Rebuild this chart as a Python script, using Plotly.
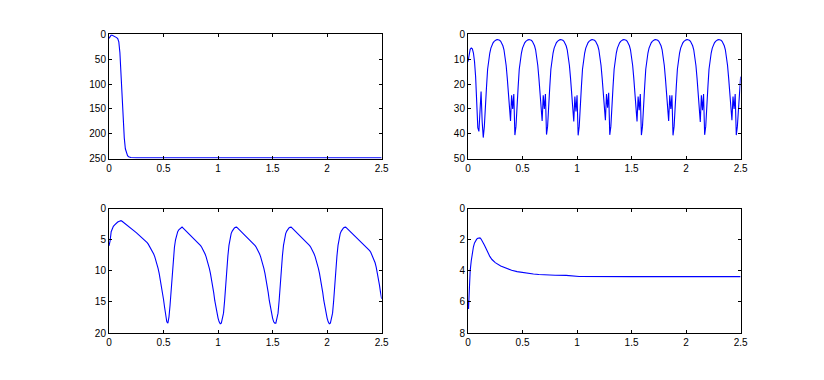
import plotly.graph_objects as go

# ---------------- data ----------------
T_STEP = 0.01  # sampling step of the simulated traces (s)

# top-left panel (irregular sample times)
tl_x = [0.00, 0.01, 0.02, 0.03, 0.04, 0.05, 0.06, 0.07, 0.08, 0.09,
        0.10, 0.11, 0.12, 0.13, 0.14, 0.15, 0.16, 0.17, 0.18, 0.19,
        0.20, 0.25, 0.50, 1.00, 1.50, 2.00, 2.50]
tl_y = [8, 3.5, 1.6, 1.8, 2.8, 4.0, 5.2, 6.5, 8.5, 15,
        37, 88, 130, 173, 208, 230, 240, 244, 246, 247,
        247.5, 248, 248, 248, 248, 248, 248]

# top-right panel (sampled every T_STEP from 0 to 2.5)
tr_y = [
    11, 8, 6, 5.5, 5.8, 7.5, 11, 17, 25, 37.5, 39, 29, 23, 35, 41.5,
    37, 31, 21, 14, 10, 7.5, 5.5, 4.2, 3.4, 2.8, 2.4, 2.2, 2.1, 2.2, 2.4, 2.8, 3.5, 4.6, 6.2, 8.8, 12.5, 17.5, 23.5, 30.5, 34.8, 24.5, 30, 24,
    40.5, 37, 31, 21, 14, 10, 7.5, 5.5, 4.2, 3.4, 2.8, 2.4, 2.2, 2.1, 2.2, 2.4, 2.8, 3.5, 4.6, 6.2, 8.8, 12.5, 17.5, 23.5, 30.5, 34.8, 24.5, 30, 24,
    40.3, 37, 31, 21, 14, 10, 7.5, 5.5, 4.2, 3.4, 2.8, 2.4, 2.2, 2.1, 2.2, 2.4, 2.8, 3.5, 4.6, 6.2, 8.8, 12.5, 17.5, 23.5, 31, 35, 25, 31, 24.5,
    40.6, 37, 31, 21, 14, 10, 7.5, 5.5, 4.2, 3.4, 2.8, 2.4, 2.2, 2.1, 2.2, 2.4, 2.8, 3.5, 4.6, 6.2, 8.8, 12.5, 17.5, 23.5, 30, 34.5, 24, 29.5, 23.5,
    40.4, 37, 31, 21, 14, 10, 7.5, 5.5, 4.2, 3.4, 2.8, 2.4, 2.2, 2.1, 2.2, 2.4, 2.8, 3.5, 4.6, 6.2, 8.8, 12.5, 17.5, 23.5, 31, 35, 25, 30.5, 24,
    40.5, 37, 31, 21, 14, 10, 7.5, 5.5, 4.2, 3.4, 2.8, 2.4, 2.2, 2.1, 2.2, 2.4, 2.8, 3.5, 4.6, 6.2, 8.8, 12.5, 17.5, 23.5, 30.5, 34.8, 24.5, 30, 24.5,
    40.6, 37, 31, 21, 14, 10, 7.5, 5.5, 4.2, 3.4, 2.8, 2.4, 2.2, 2.1, 2.2, 2.4, 2.8, 3.5, 4.6, 6.2, 8.8, 12.5, 17.5, 23.5, 31, 35.2, 24.5, 30.5, 24,
    40.4, 37, 31, 21, 14, 10, 7.5, 5.5, 4.2, 3.4, 2.8, 2.4, 2.2, 2.1, 2.2, 2.4, 2.8, 3.5, 4.6, 6.2, 8.8, 12.5, 17.5, 23.5, 30.5, 34.5, 25, 30, 24,
    40.5, 37, 31, 22, 17,
]

# bottom-left panel (sampled every T_STEP from 0 to 2.5)
bl_y = [
    6.0, 5.2, 3.7, 3.1, 2.85, 2.65, 2.45, 2.3, 2.15, 2.05,
    1.97, 1.93, 2.02, 2.15, 2.28, 2.41, 2.54, 2.67, 2.8, 2.95,
    3.1, 3.25, 3.4, 3.55, 3.7, 3.85, 4.0, 4.15, 4.3, 4.45,
    4.6, 4.75, 4.9, 5.05, 5.25, 5.45, 5.7, 6.0, 6.3, 6.6,
    6.9, 7.3, 7.75, 8.3, 8.9, 9.6, 10.4, 11.3, 12.3, 13.4,
    14.6, 15.9, 17.2, 18.2, 18.4, 17.4, 15.5, 13.0, 10.3, 8.0,
    6.2, 5.0, 4.2, 3.7, 3.4, 3.2, 3.05,
    2.96, 3.12, 3.29, 3.46, 3.63, 3.80, 3.97, 4.14, 4.31, 4.48,
    4.65, 4.82, 4.99, 5.16, 5.33, 5.52, 5.72, 5.95, 6.2, 6.5,
    6.85, 7.25, 7.7, 8.25, 8.9, 9.6, 10.4, 11.3, 12.3, 13.5,
    14.8, 16.0, 16.9, 17.6, 18.2, 18.5, 18.4, 17.6, 16.8, 14.8,
    12.0, 9.8, 7.6, 5.9, 4.6, 4.0, 3.6, 3.3, 3.1, 3.0,
    2.96, 3.12, 3.29, 3.46, 3.63, 3.80, 3.97, 4.14, 4.31, 4.48,
    4.65, 4.82, 4.99, 5.16, 5.33, 5.52, 5.72, 5.95, 6.2, 6.5,
    6.85, 7.25, 7.7, 8.25, 8.9, 9.6, 10.4, 11.3, 12.3, 13.5,
    14.8, 16.0, 16.9, 17.6, 18.2, 18.4, 18.4, 17.6, 16.8, 14.8,
    12.0, 9.8, 7.6, 5.9, 4.6, 4.0, 3.6, 3.3, 3.1, 3.0,
    2.96, 3.12, 3.29, 3.46, 3.63, 3.80, 3.97, 4.14, 4.31, 4.48,
    4.65, 4.82, 4.99, 5.16, 5.33, 5.52, 5.72, 5.95, 6.2, 6.5,
    6.85, 7.25, 7.7, 8.25, 8.9, 9.6, 10.4, 11.3, 12.3, 13.5,
    14.8, 16.0, 16.9, 17.6, 18.2, 18.5, 18.4, 17.6, 16.8, 14.8,
    12.0, 9.8, 7.6, 5.9, 4.6, 4.0, 3.6, 3.3, 3.1, 3.0,
    2.96, 3.12, 3.29, 3.46, 3.63, 3.80, 3.97, 4.14, 4.31, 4.48,
    4.65, 4.82, 4.99, 5.16, 5.3, 5.45, 5.6, 5.78, 5.95, 6.15,
    6.35, 6.55, 6.75, 7.0, 7.4, 7.8, 8.2, 8.7, 9.4, 10.2,
    11.1, 12.3, 13.5, 14.5,
]

# bottom-right panel (irregular sample times)
br_x = [0.000, 0.005, 0.010, 0.015, 0.020, 0.030, 0.040, 0.050, 0.060, 0.070,
        0.080, 0.090, 0.100, 0.110, 0.120, 0.130, 0.140, 0.150, 0.160, 0.170,
        0.180, 0.190, 0.200, 0.220, 0.250, 0.300, 0.350, 0.400, 0.450, 0.500,
        0.550, 0.600, 0.650, 0.700, 0.800, 0.900, 1.000, 1.020, 1.500, 2.000,
        2.500]
br_y = [5.9, 6.45, 5.6, 4.6, 4.0, 3.35, 2.8, 2.45, 2.2, 2.05,
        1.96, 1.9, 1.87, 1.88, 1.95, 2.05, 2.18, 2.33, 2.48, 2.63,
        2.8, 2.95, 3.07, 3.27, 3.47, 3.69, 3.84, 3.96, 4.05, 4.11,
        4.16, 4.2, 4.23, 4.26, 4.28, 4.29, 4.31, 4.36, 4.37, 4.37,
        4.37]

x_ticks = [0, 0.5, 1, 1.5, 2, 2.5]
x_tick_text = ["0", "0.5", "1", "1.5", "2", "2.5"]
tl_yticks = [0, 50, 100, 150, 200, 250]
tr_yticks = [0, 10, 20, 30, 40, 50]
bl_yticks = [0, 5, 10, 15, 20]
br_yticks = [0, 2, 4, 6, 8]

tr_x = [round(i * T_STEP, 2) for i in range(len(tr_y))]
bl_x = [round(i * T_STEP, 2) for i in range(len(bl_y))]

# ---------------- figure ----------------
W, H = 824, 380
LINE = dict(color="#0000ff", width=1.1)

fig = go.Figure()
fig.add_trace(go.Scatter(x=tl_x, y=tl_y, mode="lines", line=LINE, xaxis="x", yaxis="y", hoverinfo="skip"))
fig.add_trace(go.Scatter(x=tr_x, y=tr_y, mode="lines", line=LINE, xaxis="x2", yaxis="y2", hoverinfo="skip"))
fig.add_trace(go.Scatter(x=bl_x, y=bl_y, mode="lines", line=LINE, xaxis="x3", yaxis="y3", hoverinfo="skip"))
fig.add_trace(go.Scatter(x=br_x, y=br_y, mode="lines", line=LINE, xaxis="x4", yaxis="y4", hoverinfo="skip"))

xl = [107.3 / W, 383.3 / W]
xr = [470.7 / W, 746.7 / W]
yt = [1 - 157.7 / H, 1 - 29.3 / H]
yb = [1 - 337.7 / H, 1 - 209.3 / H]

FONT = dict(family="Liberation Sans, Arial, Helvetica, sans-serif", size=10, color="black")


def xax(domain, anchor):
    return dict(domain=domain, anchor=anchor, range=[0, 2.5], tickvals=x_ticks,
                ticktext=x_tick_text, ticks="inside", ticklen=3, tickcolor="black",
                showline=True, linecolor="black", linewidth=1, mirror="ticks",
                showgrid=False, zeroline=False, tickfont=FONT, fixedrange=True)


def yax(domain, anchor, top, ticks):
    return dict(domain=domain, anchor=anchor, range=[top, 0], tickvals=ticks,
                ticks="inside", ticklen=3, tickcolor="black",
                showline=True, linecolor="black", linewidth=1, mirror="ticks",
                showgrid=False, zeroline=False, tickfont=FONT, fixedrange=True)


fig.update_layout(
    width=W, height=H,
    margin=dict(l=0, r=0, t=0, b=0),
    paper_bgcolor="white", plot_bgcolor="white",
    showlegend=False, hovermode=False,
    xaxis=xax(xl, "y"), yaxis=yax(yt, "x", 250, tl_yticks),
    xaxis2=xax(xr, "y2"), yaxis2=yax(yt, "x2", 50, tr_yticks),
    xaxis3=xax(xl, "y3"), yaxis3=yax(yb, "x3", 20, bl_yticks),
    xaxis4=xax(xr, "y4"), yaxis4=yax(yb, "x4", 8, br_yticks),
)

fig.write_html("out.html", config={"displayModeBar": False})
